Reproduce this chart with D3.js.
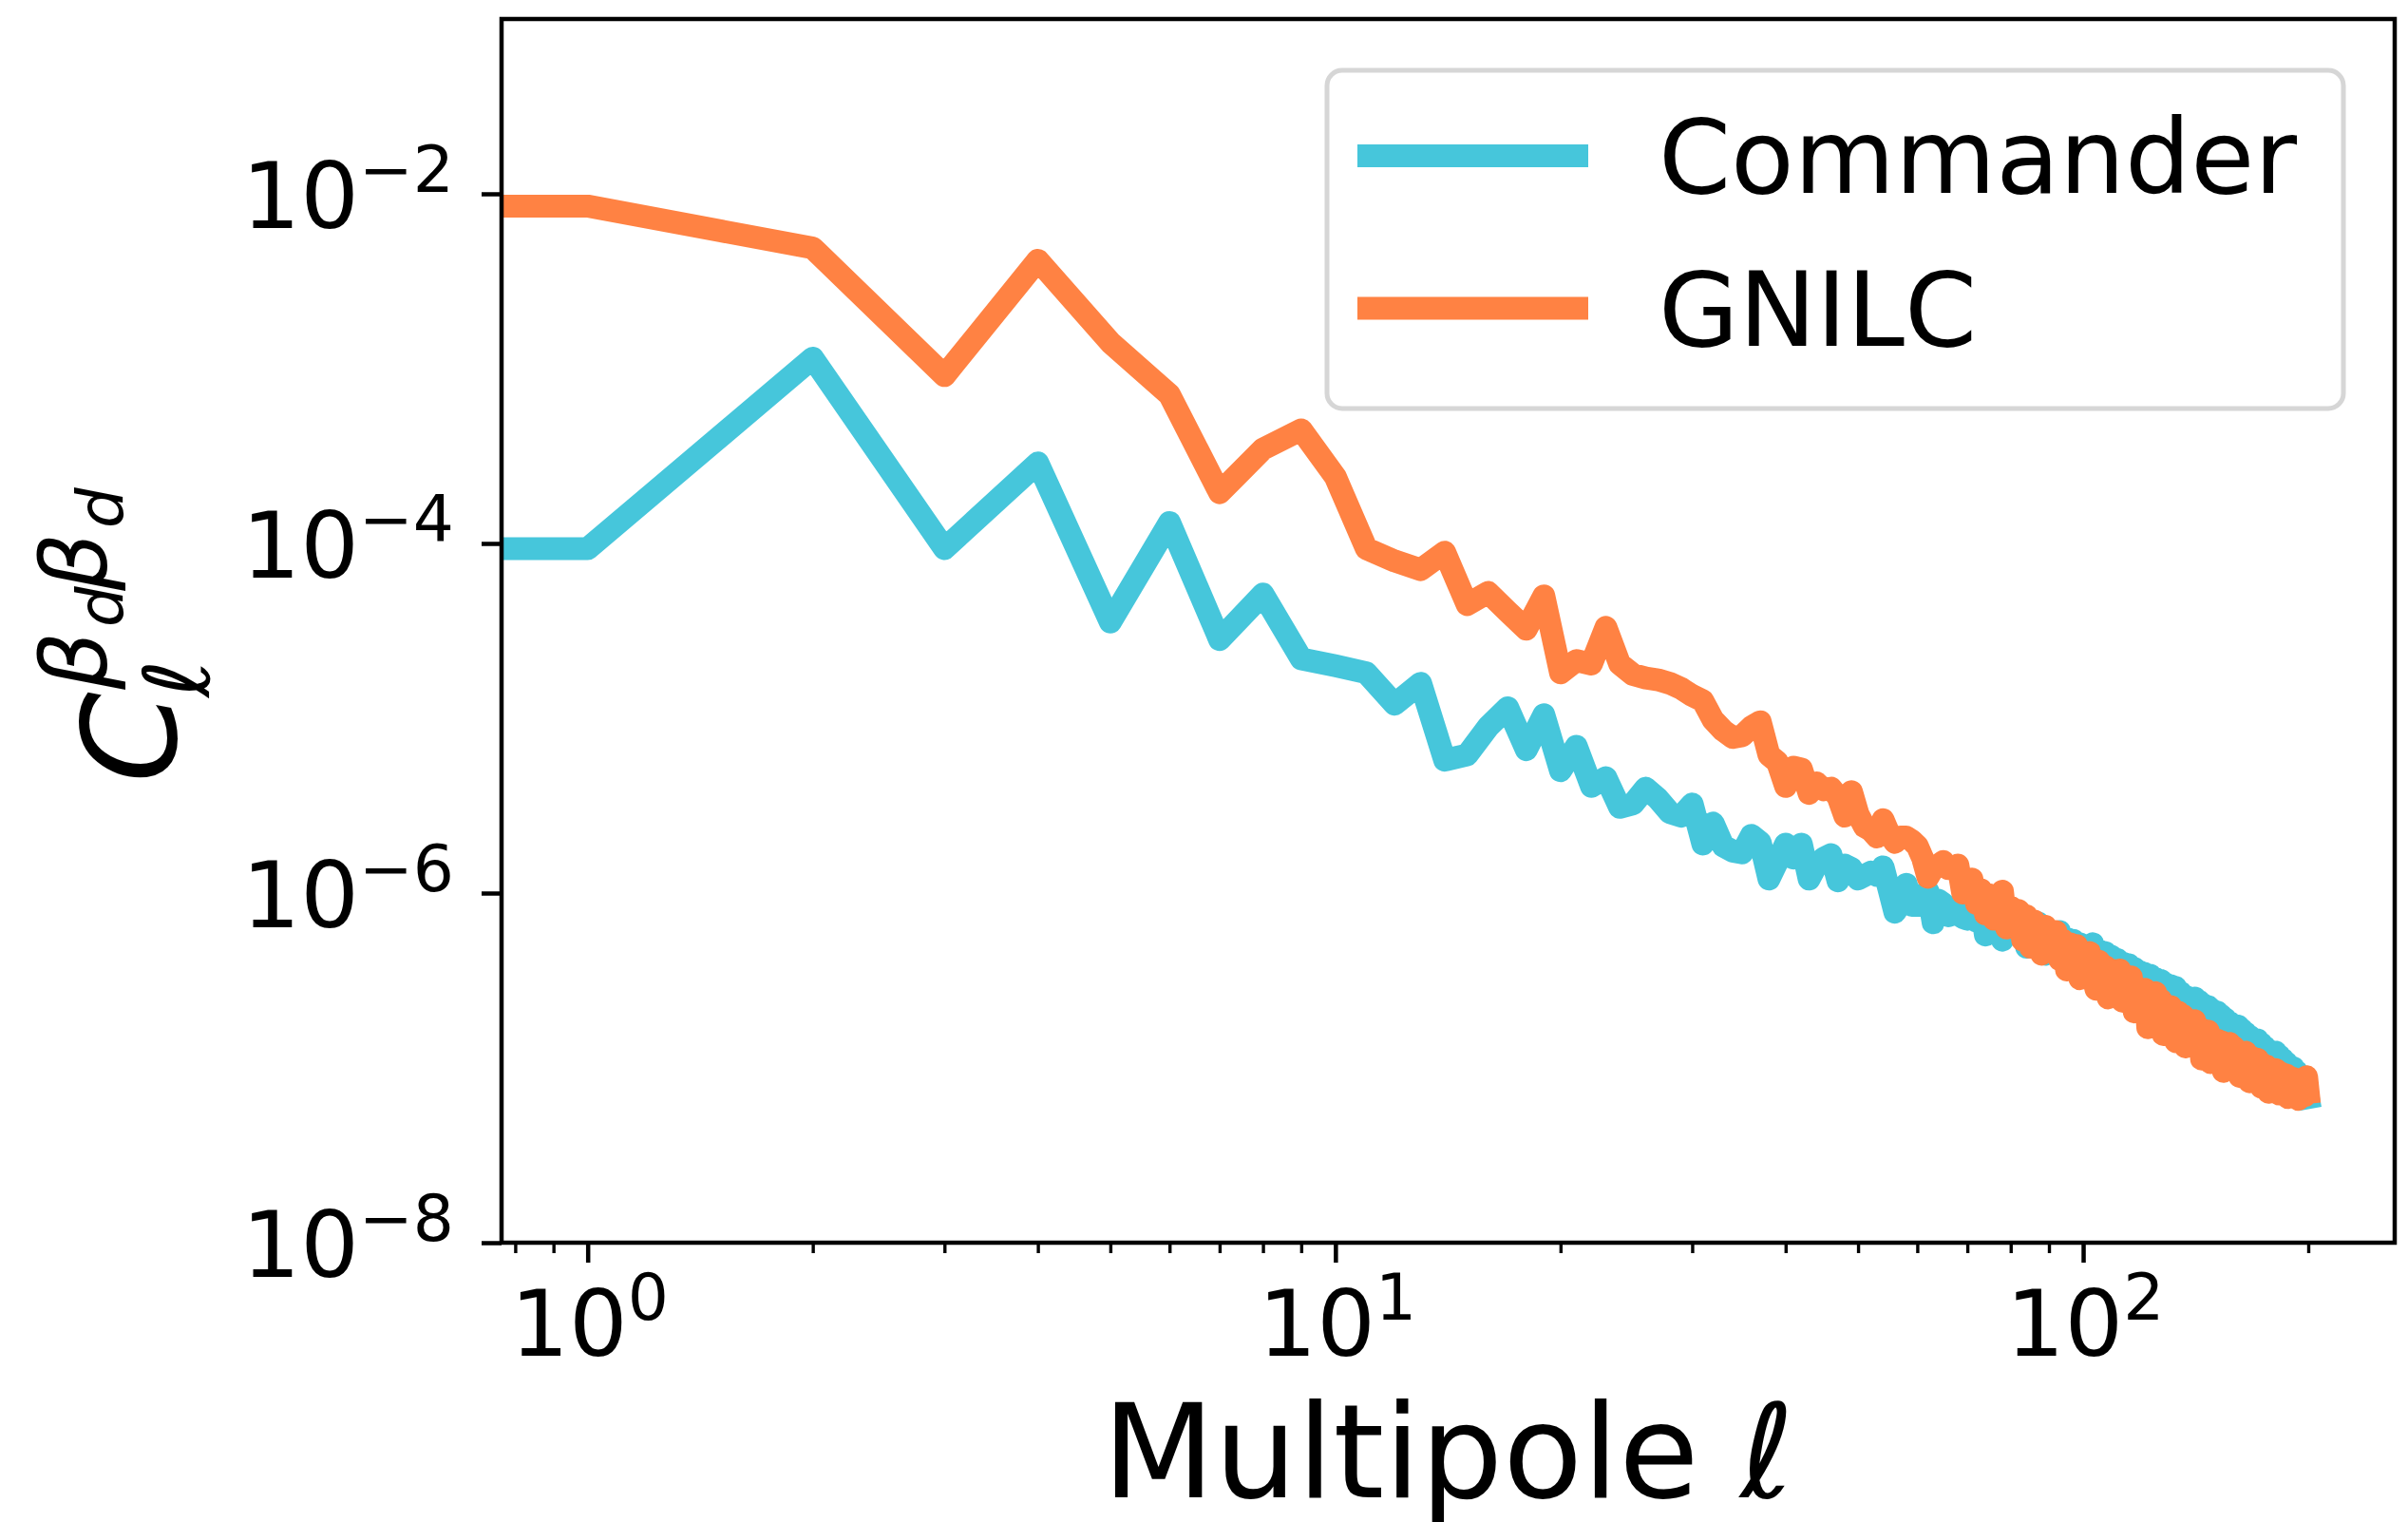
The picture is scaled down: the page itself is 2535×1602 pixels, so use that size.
<!DOCTYPE html>
<html>
<head>
<meta charset="utf-8">
<script src="https://cdn.jsdelivr.net/npm/d3@7"></script>
<style>
  html, body { margin: 0; padding: 0; background: #fff; }
  svg { display: block; font-family: "DejaVu Sans", sans-serif; }
</style>
</head>
<body>
<svg></svg>
<script>
const WIDTH = 2535;
const HEIGHT = 1602;
const PLOT = { left: 528, right: 2521, top: 20, bottom: 1308 };

const seriesNames = ["Commander", "GNILC"];
const seriesColors = ["#46c6db", "#ff8243"];

// log10 of C_ell^{beta_d beta_d}, index = multipole ell (0..200)
const commanderLog10 = [
  -4.03, -4.03, -2.94, -4.03, -3.54, -4.45, -3.88, -4.55, -4.29, -4.66,
  -4.70, -4.74, -4.92, -4.80, -5.24, -5.21, -5.05, -4.94, -5.18, -4.98,
  -5.30, -5.16, -5.39, -5.34, -5.51, -5.49, -5.40, -5.46, -5.54, -5.56,
  -5.49, -5.72, -5.60, -5.73, -5.76, -5.77, -5.67, -5.71, -5.92, -5.82,
  -5.72, -5.80, -5.72, -5.92, -5.84, -5.80, -5.78, -5.93, -5.84, -5.86,
  -5.92, -5.90, -5.88, -5.90, -5.85, -5.98, -6.11, -6.06, -5.95, -6.07,
  -6.07, -6.01, -5.99, -6.17, -6.04, -6.06, -6.13, -6.12, -6.10, -6.14,
  -6.15, -6.08, -6.16, -6.07, -6.24, -6.11, -6.19, -6.10, -6.27, -6.13,
  -6.19, -6.14, -6.24, -6.16, -6.31, -6.19, -6.25, -6.17, -6.28, -6.35,
  -6.22, -6.24, -6.31, -6.22, -6.38, -6.26, -6.33, -6.27, -6.41, -6.29,
  -6.34, -6.31, -6.37, -6.29, -6.42, -6.33, -6.47, -6.34, -6.41, -6.36,
  -6.44, -6.38, -6.47, -6.40, -6.52, -6.41, -6.49, -6.43, -6.55, -6.45,
  -6.51, -6.46, -6.54, -6.47, -6.60, -6.49, -6.56, -6.50, -6.62, -6.52,
  -6.58, -6.53, -6.61, -6.54, -6.67, -6.57, -6.63, -6.59, -6.70, -6.62,
  -6.66, -6.60, -6.68, -6.62, -6.74, -6.64, -6.71, -6.65, -6.77, -6.67,
  -6.73, -6.68, -6.76, -6.70, -6.81, -6.72, -6.78, -6.74, -6.85, -6.76,
  -6.81, -6.76, -6.84, -6.78, -6.89, -6.80, -6.86, -6.82, -6.92, -6.84,
  -6.89, -6.84, -6.92, -6.86, -6.97, -6.88, -6.94, -6.90, -7.00, -6.92,
  -6.97, -6.91, -7.00, -6.93, -7.05, -6.95, -7.02, -6.97, -7.08, -6.99,
  -7.03, -7.00, -7.08, -7.02, -7.12, -7.05, -7.10, -7.08, -7.13, -7.12,
  -7.17
];

const gnilcLog10 = [
  -2.07, -2.07, -2.31, -3.04, -2.38, -2.85, -3.15, -3.71, -3.46, -3.35,
  -3.62, -4.03, -4.10, -4.15, -4.05, -4.35, -4.28, -4.39, -4.49, -4.30,
  -4.74, -4.67, -4.69, -4.48, -4.69, -4.75, -4.77, -4.78, -4.80, -4.83,
  -4.87, -4.90, -5.01, -5.07, -5.11, -5.10, -5.05, -5.02, -5.21, -5.25,
  -5.39, -5.28, -5.29, -5.43, -5.37, -5.41, -5.40, -5.45, -5.56, -5.42,
  -5.55, -5.62, -5.64, -5.68, -5.58, -5.66, -5.71, -5.68, -5.68, -5.70,
  -5.73, -5.80, -5.91, -5.86, -5.84, -5.82, -5.86, -5.86, -5.84, -6.00,
  -5.96, -5.92, -6.06, -5.98, -6.12, -6.01, -6.15, -6.04, -5.99, -6.20,
  -6.08, -6.14, -6.10, -6.27, -6.13, -6.31, -6.16, -6.20, -6.35, -6.19,
  -6.26, -6.33, -6.22, -6.38, -6.27, -6.44, -6.29, -6.34, -6.30, -6.49,
  -6.35, -6.41, -6.34, -6.47, -6.55, -6.39, -6.47, -6.42, -6.60, -6.44,
  -6.49, -6.52, -6.44, -6.62, -6.50, -6.57, -6.48, -6.68, -6.54, -6.59,
  -6.62, -6.55, -6.77, -6.60, -6.66, -6.57, -6.69, -6.61, -6.81, -6.64,
  -6.70, -6.65, -6.73, -6.85, -6.68, -6.76, -6.70, -6.88, -6.73, -6.79,
  -6.80, -6.73, -6.83, -6.77, -6.95, -6.80, -6.86, -6.79, -6.97, -6.83,
  -6.89, -6.84, -6.92, -6.85, -7.02, -6.87, -6.94, -6.86, -6.99, -6.88,
  -6.95, -6.90, -7.05, -6.92, -6.99, -6.91, -7.00, -7.08, -6.94, -7.01,
  -6.99, -6.95, -7.04, -7.11, -6.98, -7.05, -6.99, -7.14, -7.01, -7.07,
  -7.05, -7.01, -7.09, -7.15, -7.03, -7.10, -7.12, -7.04, -7.17, -7.06,
  -7.11, -7.06, -7.14, -7.09, -7.18, -7.10, -7.15, -7.08, -7.16, -7.05,
  -7.14
];

const xDomain = [0.767, 261];
const yDomain = [1e-8, 1e-1];
const xMajorTicks = [1, 10, 100];
const xMinorTicks = [0.8, 0.9, 2, 3, 4, 5, 6, 7, 8, 9, 20, 30, 40, 50, 60, 70, 80, 90, 200];
const yMajorTicks = [1e-8, 1e-6, 1e-4, 1e-2];

const LINE_WIDTH = 24;
const TICK_FONT = 97;
const LEGEND_FONT = 109;
const LABEL_FONT = 137;

let svg, x, y;

function init() {
  svg = d3.select("svg").attr("width", WIDTH).attr("height", HEIGHT);
  svg.append("rect").attr("width", WIDTH).attr("height", HEIGHT).attr("fill", "#fff");

  x = d3.scaleLog().domain(xDomain).range([PLOT.left, PLOT.right]);
  y = d3.scaleLog().domain(yDomain).range([PLOT.bottom, PLOT.top]);

  drawLines();
  drawAxes();
  drawLegend();
  drawLabels();
}

function drawLines() {
  svg.append("defs").append("clipPath").attr("id", "plot-clip")
    .append("rect")
    .attr("x", PLOT.left).attr("y", PLOT.top)
    .attr("width", PLOT.right - PLOT.left).attr("height", PLOT.bottom - PLOT.top);

  const series = [commanderLog10, gnilcLog10].map((vals, i) => ({
    name: seriesNames[i],
    color: seriesColors[i],
    points: vals.map((v, ell) => ({ ell, value: Math.pow(10, v) }))
  }));

  // ell = 0 is clipped to a tiny positive value like matplotlib does on a log axis
  const line = d3.line()
    .x((d) => x(Math.max(d.ell, 1e-3)))
    .y((d) => y(d.value));

  svg.append("g")
    .attr("clip-path", "url(#plot-clip)")
    .selectAll("path")
    .data(series)
    .enter()
    .append("path")
    .attr("fill", "none")
    .attr("stroke", (d) => d.color)
    .attr("stroke-width", LINE_WIDTH)
    .attr("stroke-linejoin", "round")
    .attr("stroke-linecap", "square")
    .attr("d", (d) => line(d.points));
}

function supLabel(sel, exp) {
  sel.append("tspan").text("10");
  sel.append("tspan")
    .attr("dy", -38)
    .attr("font-size", TICK_FONT * 0.7)
    .text(String(exp).replace("-", "\u2212"));
}

function drawAxes() {
  const xMajor = d3.axisBottom(x).tickValues(xMajorTicks).tickSize(21).tickFormat("");
  const xMinor = d3.axisBottom(x).tickValues(xMinorTicks).tickSize(11).tickFormat("");
  const yMajor = d3.axisLeft(y).tickValues(yMajorTicks).tickSize(21).tickFormat("");

  const gx = svg.append("g").attr("transform", `translate(0,${PLOT.bottom})`);
  gx.append("g").call(xMajor).call((g) => g.selectAll("line").attr("stroke-width", 4.5));
  gx.append("g").call(xMinor).call((g) => g.selectAll("line").attr("stroke-width", 3.4));
  const gy = svg.append("g").attr("transform", `translate(${PLOT.left},0)`).call(yMajor);
  gy.selectAll("line").attr("stroke-width", 4.5);
  svg.selectAll(".domain").remove();

  svg.append("rect")
    .attr("x", PLOT.left).attr("y", PLOT.top)
    .attr("width", PLOT.right - PLOT.left).attr("height", PLOT.bottom - PLOT.top)
    .attr("fill", "none").attr("stroke", "#000").attr("stroke-width", 4.5);

  svg.append("g").selectAll("text")
    .data(xMajorTicks)
    .enter()
    .append("text")
    .attr("x", (d) => x(d) + 2)
    .attr("y", PLOT.bottom + 119)
    .attr("text-anchor", "middle")
    .attr("font-size", TICK_FONT)
    .each(function (d) { supLabel(d3.select(this), Math.round(Math.log10(d))); });

  svg.append("g").selectAll("text")
    .data(yMajorTicks)
    .enter()
    .append("text")
    .attr("x", PLOT.left - 50)
    .attr("y", (d) => y(d) + 36)
    .attr("text-anchor", "end")
    .attr("font-size", TICK_FONT)
    .each(function (d) { supLabel(d3.select(this), Math.round(Math.log10(d))); });
}

function drawLegend() {
  const legend = svg.append("g").classed("legend", true);
  legend.append("rect")
    .attr("x", 1397).attr("y", 74)
    .attr("width", 1070).attr("height", 356)
    .attr("rx", 16).attr("ry", 16)
    .attr("fill", "#fff").attr("fill-opacity", 0.8)
    .attr("stroke", "#d6d6d6").attr("stroke-width", 5);

  const items = legend.selectAll(".item")
    .data(seriesNames)
    .enter()
    .append("g")
    .attr("transform", (d, i) => `translate(0,${164 + i * 160.5})`);

  items.append("line")
    .attr("x1", 1441).attr("x2", 1660)
    .attr("stroke", (d, i) => seriesColors[i])
    .attr("stroke-width", LINE_WIDTH)
    .attr("stroke-linecap", "square");

  items.append("text")
    .attr("x", 1746).attr("y", 39)
    .attr("font-size", LEGEND_FONT)
    .text((d) => d);
}

function drawLabels() {
  const xl = svg.append("text")
    .attr("x", (PLOT.left + PLOT.right) / 2)
    .attr("y", 1576)
    .attr("text-anchor", "middle")
    .attr("font-size", LABEL_FONT);
  xl.append("tspan").text("Multipole ");
  xl.append("tspan").attr("font-style", "italic").text("\u2113");

  // C_ell^{beta_d beta_d}, rotated
  const yl = svg.append("g")
    .attr("transform", `translate(185,${(PLOT.top + PLOT.bottom) / 2}) rotate(-90)`)
    .attr("font-style", "italic");
  const parts = [
    { t: "C", x: -160, y: 0, s: LABEL_FONT },
    { t: "\u2113", x: -70, y: 35, s: LABEL_FONT * 0.7 },
    { t: "\u03b2", x: -62, y: -73, s: LABEL_FONT * 0.7 },
    { t: "d", x: 4, y: -55, s: LABEL_FONT * 0.49 },
    { t: "\u03b2", x: 42, y: -73, s: LABEL_FONT * 0.7 },
    { t: "d", x: 108, y: -55, s: LABEL_FONT * 0.49 }
  ];
  yl.selectAll("text")
    .data(parts)
    .enter()
    .append("text")
    .attr("x", (d) => d.x)
    .attr("y", (d) => d.y)
    .attr("font-size", (d) => d.s)
    .text((d) => d.t);
}

init();
</script>
</body>
</html>
